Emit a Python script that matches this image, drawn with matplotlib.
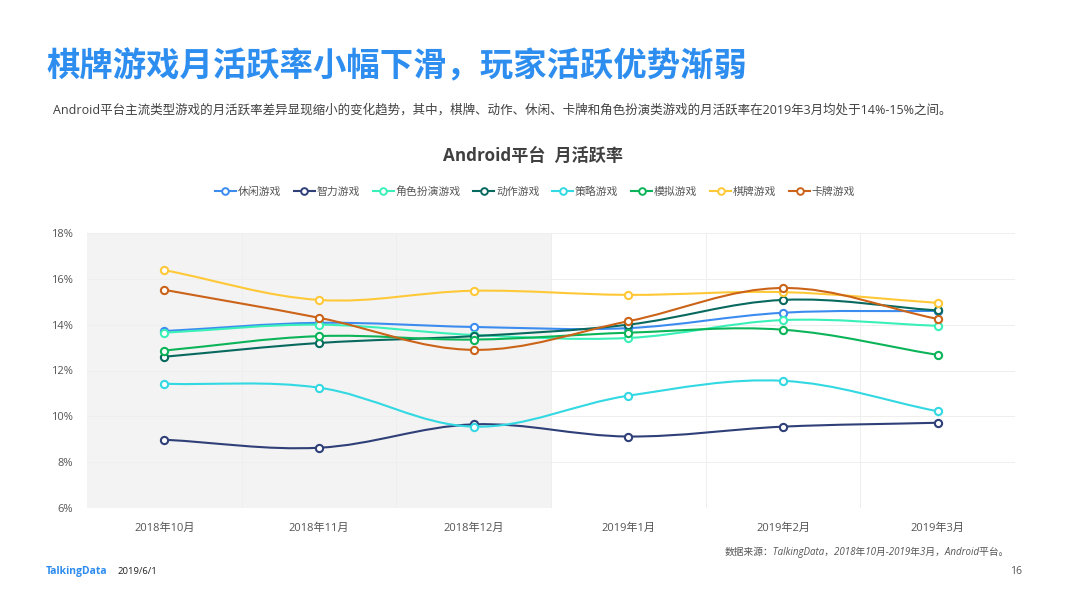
import matplotlib
matplotlib.use("Agg")
import numpy as np
import matplotlib.pyplot as plt
from matplotlib.lines import Line2D
from matplotlib.patches import PathPatch
from matplotlib.path import Path

plt.rcParams['font.family'] = ['Open Sans', 'Noto Sans CJK SC', 'DejaVu Sans']

months = ['2018年10月', '2018年11月', '2018年12月', '2019年1月', '2019年2月', '2019年3月']
yticks = [6, 8, 10, 12, 14, 16, 18]

names = ['休闲游戏', '智力游戏', '角色扮演游戏', '动作游戏', '策略游戏', '模拟游戏', '棋牌游戏', '卡牌游戏']
colors = ['#3C8CF0', '#2F3F78', '#3BF0B8', '#08695E', '#32D8E2', '#0BB458', '#FFC837', '#CB6318']

xiuxian = [13.72, 14.08, 13.90, 13.85, 14.52, 14.60]
zhili = [8.98, 8.63, 9.65, 9.12, 9.55, 9.72]
juese = [13.65, 14.00, 13.55, 13.42, 14.20, 13.95]
dongzuo = [12.60, 13.20, 13.50, 14.00, 15.08, 14.62]
celue = [11.42, 11.25, 9.55, 10.90, 11.55, 10.22]
moni = [12.87, 13.50, 13.35, 13.65, 13.78, 12.68]
qipai = [16.38, 15.08, 15.48, 15.30, 15.42, 14.95]
kapai = [15.52, 14.30, 12.90, 14.15, 15.60, 14.25]
series = [xiuxian, zhili, juese, dongzuo, celue, moni, qipai, kapai]


def smooth_path(xs, ys, sx=154.67, sy=22.9, smooth=0.35):
    # same idea as echarts smooth line: control points along prev->next
    xs = np.asarray(xs, float)
    ys = np.asarray(ys, float)
    verts = [(xs[0], ys[0])]
    codes = [Path.MOVETO]
    n = len(xs)
    def cps(i):
        a, b = max(i - 1, 0), min(i + 1, n - 1)
        vx, vy = xs[b] - xs[a], ys[b] - ys[a]
        lp = np.hypot((xs[i] - xs[a]) * sx, (ys[i] - ys[a]) * sy)
        ln = np.hypot((xs[b] - xs[i]) * sx, (ys[b] - ys[i]) * sy)
        tot = lp + ln
        rn = ln / tot
        rp = lp / tot
        return (xs[i] - vx * smooth * rp, ys[i] - vy * smooth * rp), (xs[i] + vx * smooth * rn, ys[i] + vy * smooth * rn)
    for i in range(n - 1):
        verts += [cps(i)[1], cps(i + 1)[0], (xs[i + 1], ys[i + 1])]
        codes += [Path.CURVE4, Path.CURVE4, Path.CURVE4]
    return Path(verts, codes)


W, H = 1066, 599
fig = plt.figure(figsize=(W / 100, H / 100), dpi=100, facecolor='white')
ax = fig.add_axes([87 / W, 1 - 508 / H, 928 / W, 275 / H])

x = np.arange(len(months))
ax.set_xlim(-0.5, 5.5)
ax.set_ylim(6, 18)
ax.axvspan(-0.5, 2.5, color='#f3f3f3', lw=0, zorder=0)
ax.set_yticks(yticks)
ax.set_yticklabels([f'{v}%' for v in yticks], fontsize=8, color='#555555')
ax.set_xticks(x)
ax.set_xticklabels(months, fontsize=8, color='#555555')
ax.set_xticks(x[:-1] + 0.5, minor=True)
ax.tick_params(which='both', length=0)
ax.tick_params(axis='x', pad=11)
ax.tick_params(axis='y', pad=10)
ax.grid(axis='y', color='#eeeeee', lw=0.7, zorder=1)
ax.grid(axis='x', which='minor', color='#eeeeee', lw=0.7, zorder=1)
ax.axvline(5.5, color='#eeeeee', lw=0.7, zorder=1)
for s in ax.spines.values():
    s.set_visible(False)

handles = []
for i, (name, col, vals) in enumerate(zip(names, colors, series)):
    ax.add_patch(PathPatch(smooth_path(x, vals), fc='none', ec=col, lw=1.5, zorder=3 + i, capstyle='round'))
    ax.plot(x, vals, ls='none', marker='o', ms=5.2, mfc='white', mec=col, mew=1.5, zorder=3 + i, clip_on=False)
    handles.append(Line2D([], [], color=col, lw=1.5, marker='o', ms=4.8, mfc='white', mec=col, mew=1.4, label=name))

fig.legend(handles=handles, ncol=8, loc='center', bbox_to_anchor=(535 / W, 1 - 192.5 / H), frameon=False,
           fontsize=7.8, labelcolor='#555555', handlelength=1.95, handletextpad=0.15, columnspacing=1.17)

fig.text(46 / W, 1 - 68 / H, '棋牌游戏月活跃率小幅下滑，玩家活跃优势渐弱', fontsize=24, fontweight='bold',
         color='#2E8EF0', va='center', ha='left')
fig.text(53 / W, 1 - 110 / H, 'Android平台主流类型游戏的月活跃率差异显现缩小的变化趋势，其中，棋牌、动作、休闲、卡牌和角色扮演类游戏的月活跃率在2019年3月均处于14%-15%之间。',
         fontsize=9, color='#404040', va='center', ha='left')
fig.text(533 / W, 1 - 156 / H, 'Android平台  月活跃率', fontsize=12.3, fontweight='bold', color='#404040', va='center', ha='center')
fig.text(1009 / W, 1 - 552 / H, '数据来源：TalkingData，2018年10月-2019年3月，Android平台。', fontsize=7, style='italic',
         color='#555555', va='center', ha='right')
fig.text(46 / W, 1 - 571.5 / H, 'TalkingData', fontsize=7.5, fontweight='bold', color='#2E8CEE', va='center', ha='left')
fig.text(118 / W, 1 - 571.5 / H, '2019/6/1', fontsize=6.8, color='#222222', va='center', ha='left')
fig.text(1022 / W, 1 - 571.5 / H, '16', fontsize=7.5, color='#555555', va='center', ha='right')

fig.savefig('out.png', dpi=100)
